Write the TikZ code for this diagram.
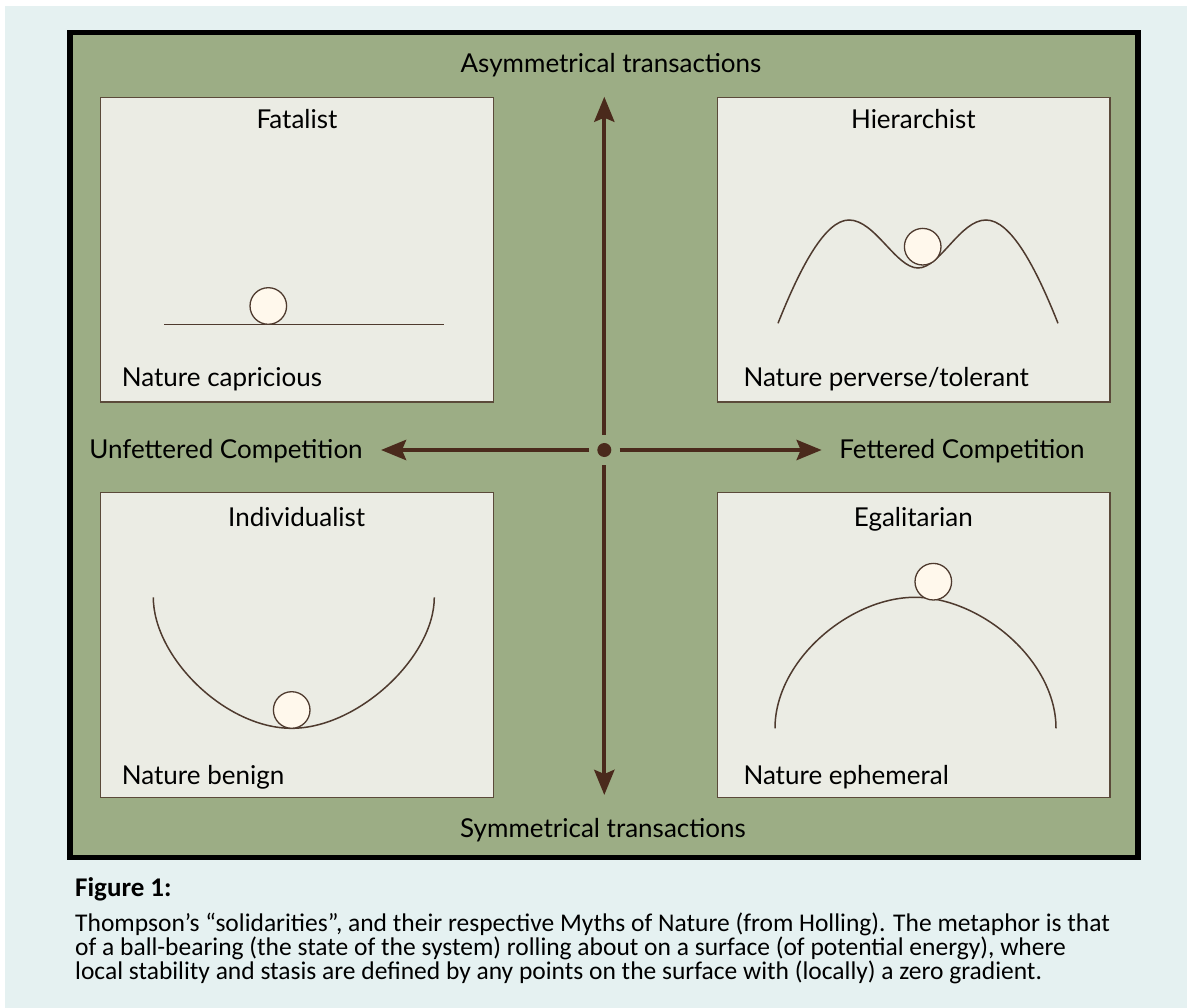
\documentclass[tikz,border=0pt]{standalone}
\usepackage{fontspec}
\setmainfont{Carlito}
\newfontfamily\diagfont{Lato}
\usepackage{tikz}
\usetikzlibrary{arrows.meta,positioning}
\definecolor{paleblue}{HTML}{E5F1F1}
\definecolor{moss}{HTML}{9CAD85}
\definecolor{parchment}{HTML}{EBECE4}
\definecolor{frameline}{HTML}{5B4A3A}
\definecolor{axisbrown}{HTML}{4A2A1C}
\definecolor{curvebrown}{HTML}{4E3A2E}
\definecolor{ballfill}{HTML}{FFF8EC}

\begin{document}
\begin{tikzpicture}[
  x=1pt,y=-1pt,
  panel/.style={
    draw=frameline,
    line width=1.4pt,
    fill=parchment,
    minimum width=392.6pt,
    minimum height=304.7pt,
    inner sep=0pt
  },
  title/.style={font=\diagfont\fontsize{26}{29}\selectfont,anchor=base,inner sep=0pt},
  myth/.style={font=\diagfont\fontsize{26}{29}\selectfont,anchor=base west,inner sep=0pt},
  axislabel/.style={font=\diagfont\fontsize{26}{29}\selectfont,anchor=base,inner sep=0pt},
  surface/.style={draw=curvebrown,line width=1.5pt},
  ball/.style={circle,draw=curvebrown,line width=1.3pt,fill=ballfill,minimum size=36.6pt,inner sep=0pt},
  axis/.style={-{Stealth[length=25pt,width=20pt,inset=4pt]},line width=4.3pt,draw=axisbrown,shorten <=8pt}
]
\useasboundingbox (0,0) rectangle (1187,1008);
\fill[white] (0,0) rectangle (1187,1008);
\fill[paleblue] (5,6) rectangle (1187,1008);

% Frame
\draw[line width=5.5pt,fill=moss] (70,32.5) rectangle (1138,857.5);

% 1. Panels
\node[panel] (fatal) at (297,249.7) {};
\node[panel] (hier) at (913.7,249.7) {};
\node[panel] (indiv) at (297,645) {};
\node[panel] (egal) at (913.7,645) {};

\node[title] (fataltitle) at (297,129) {Fatalist};
\node[title] (hiertitle) at (913.3,129) {Hierarchist};
\node[title] (indivtitle) at (296.7,526.7) {Individualist};
\node[title] (egaltitle) at (913.3,526.7) {Egalitarian};

\node[myth] (fatalmyth) at (121.7,386.7) {Nature capricious};
\node[myth] (hiermyth) at (743.3,386.7) {Nature perverse/tolerant};
\node[myth] (indivmyth) at (121.7,784) {Nature benign};
\node[myth] (egalmyth) at (743.3,784) {Nature ephemeral};

% 2. Surfaces and balls
\draw[surface] (164,324.3) -- (444,324.3);
\node[ball] (fatalball) at (268.3,306) {};

\draw[surface] (778,323.3) .. controls (800,268) and (825,220) .. (849,220)
  .. controls (875,220) and (896,268) .. (918,268)
  .. controls (940,268) and (960,220) .. (986,220)
  .. controls (1011,220) and (1036,268) .. (1058,323.3);
\node[ball] (hierball) at (922.7,246.7) {};

\draw[surface] (153.3,597.3) .. controls (153.3,657) and (225,728.3) .. (291.7,728.3)
  .. controls (358,728.3) and (434.3,657) .. (434.3,597.3);
\node[ball] (indivball) at (291.7,710) {};

\draw[surface] (775,728.3) .. controls (775,660) and (850,597.3) .. (915,597.3)
  .. controls (980,597.3) and (1056,660) .. (1056,728.3);
\node[ball] (egalball) at (933.3,581.7) {};

% 3. Axes
\node[circle,fill=axisbrown,minimum size=14pt,inner sep=0pt] (centre) at (604.3,450) {};
\coordinate (uptip) at (604.3,96.7);
\coordinate (downtip) at (604.3,795);
\coordinate (lefttip) at (381,450);
\coordinate (righttip) at (821.7,450);

\draw[axis] (centre) -- (uptip);
\draw[axis] (centre) -- (downtip);
\draw[axis] (centre) -- (lefttip);
\draw[axis] (centre) -- (righttip);

\node[axislabel] (asym) at (611,73) {Asymmetrical transactions};
\node[axislabel] (sym) at (603,837) {Symmetrical transactions};
\node[axislabel] (unfettered) at (226,458) {Unfettered Competition};
\node[axislabel] (fettered) at (962,458) {Fettered Competition};

% 4. Caption
\node[anchor=base west,inner sep=0pt,font=\bfseries\fontsize{27}{29}\selectfont] (figlabel) at (75,896.7) {Figure 1:};
\node[anchor=north west,inner sep=0pt,align=left,font=\fontsize{25.5}{22.7}\selectfont] (caption) at (75,912.5) {Thompson’s “solidarities”, and their respective Myths of Nature (from Holling). The metaphor is that\\
of a ball-bearing (the state of the system) rolling about on a surface (of potential energy), where\\
local stability and stasis are defined by any points on the surface with (locally) a zero gradient.};

\end{tikzpicture}
\end{document}
